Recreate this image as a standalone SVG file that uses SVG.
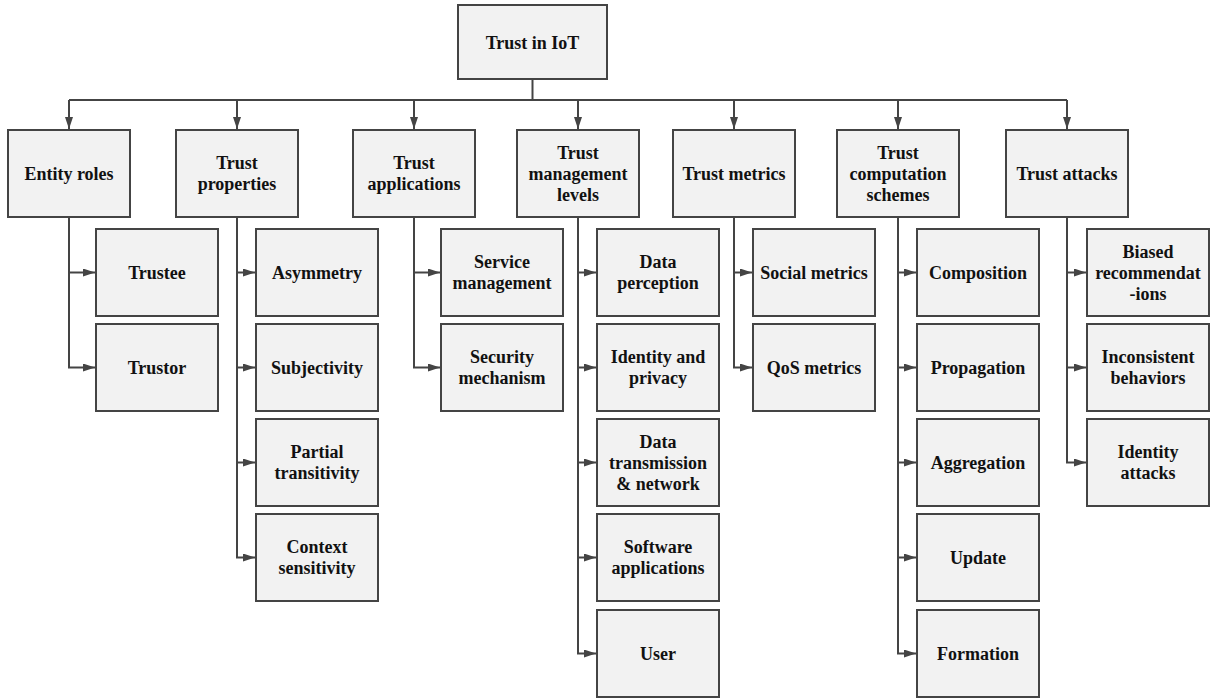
<svg xmlns="http://www.w3.org/2000/svg" width="1210" height="700" viewBox="0 0 1210 700">
  <style>
    .box { fill: #f2f2f2; stroke: #444; stroke-width: 2; }
    .lbl { font-family: "Liberation Serif", "Times New Roman", serif; font-weight: bold; font-size: 18px; fill: #111; text-anchor: middle; }
    .wire { fill: none; stroke: #444; stroke-width: 2; }
  </style>
  <defs>
    <marker id="arr" markerUnits="userSpaceOnUse" markerWidth="12" markerHeight="8" refX="12" refY="4" orient="auto">
      <path d="M0,0 L12,4 L0,8 z" fill="#444"/>
    </marker>
  </defs>
  <rect width="1210" height="700" fill="#fff"/>

  <!-- connectors -->
  <g id="connectors" class="wire">
    <path d="M532.5 79 V100"/>
    <path d="M69 100 H1067"/>
    <path d="M69 100 V129" marker-end="url(#arr)"/>
    <path d="M237 100 V129" marker-end="url(#arr)"/>
    <path d="M414 100 V129" marker-end="url(#arr)"/>
    <path d="M578 100 V129" marker-end="url(#arr)"/>
    <path d="M734 100 V129" marker-end="url(#arr)"/>
    <path d="M898 100 V129" marker-end="url(#arr)"/>
    <path d="M1067 100 V129" marker-end="url(#arr)"/>

    <!-- Entity roles -->
    <path d="M69 217 V367.5 H95" marker-end="url(#arr)"/>
    <path d="M69 272.5 H95" marker-end="url(#arr)"/>
    <!-- Trust properties -->
    <path d="M237 217 V557.5 H255" marker-end="url(#arr)"/>
    <path d="M237 272.5 H255" marker-end="url(#arr)"/>
    <path d="M237 367.5 H255" marker-end="url(#arr)"/>
    <path d="M237 462.5 H255" marker-end="url(#arr)"/>
    <!-- Trust applications -->
    <path d="M414 217 V367.5 H440" marker-end="url(#arr)"/>
    <path d="M414 272.5 H440" marker-end="url(#arr)"/>
    <!-- Trust management levels -->
    <path d="M578 217 V653.5 H596" marker-end="url(#arr)"/>
    <path d="M578 272.5 H596" marker-end="url(#arr)"/>
    <path d="M578 367.5 H596" marker-end="url(#arr)"/>
    <path d="M578 462.5 H596" marker-end="url(#arr)"/>
    <path d="M578 557.5 H596" marker-end="url(#arr)"/>
    <!-- Trust metrics -->
    <path d="M734 217 V367.5 H752" marker-end="url(#arr)"/>
    <path d="M734 272.5 H752" marker-end="url(#arr)"/>
    <!-- Trust computation schemes -->
    <path d="M898 217 V653.5 H916" marker-end="url(#arr)"/>
    <path d="M898 272.5 H916" marker-end="url(#arr)"/>
    <path d="M898 367.5 H916" marker-end="url(#arr)"/>
    <path d="M898 462.5 H916" marker-end="url(#arr)"/>
    <path d="M898 557.5 H916" marker-end="url(#arr)"/>
    <!-- Trust attacks -->
    <path d="M1067 217 V462.5 H1086" marker-end="url(#arr)"/>
    <path d="M1067 272.5 H1086" marker-end="url(#arr)"/>
    <path d="M1067 367.5 H1086" marker-end="url(#arr)"/>
  </g>

  <!-- root -->
  <g id="trust-in-iot">
    <rect class="box" x="458" y="5" width="149" height="74"/>
    <text class="lbl" x="532.5" y="49">Trust in IoT</text>
  </g>

  <!-- first level -->
  <g id="entity-roles">
    <rect class="box" x="8" y="130" width="122" height="87"/>
    <text class="lbl" x="69" y="179.5">Entity roles</text>
  </g>
  <g id="trust-properties">
    <rect class="box" x="176" y="130" width="122" height="87"/>
    <text class="lbl"><tspan x="237" y="169">Trust</tspan><tspan x="237" y="190">properties</tspan></text>
  </g>
  <g id="trust-applications">
    <rect class="box" x="353" y="130" width="122" height="87"/>
    <text class="lbl"><tspan x="414" y="169">Trust</tspan><tspan x="414" y="190">applications</tspan></text>
  </g>
  <g id="trust-management-levels">
    <rect class="box" x="517" y="130" width="122" height="87"/>
    <text class="lbl"><tspan x="578" y="158.5">Trust</tspan><tspan x="578" y="179.5">management</tspan><tspan x="578" y="200.5">levels</tspan></text>
  </g>
  <g id="trust-metrics">
    <rect class="box" x="673" y="130" width="122" height="87"/>
    <text class="lbl" x="734" y="179.5">Trust metrics</text>
  </g>
  <g id="trust-computation-schemes">
    <rect class="box" x="837" y="130" width="122" height="87"/>
    <text class="lbl"><tspan x="898" y="158.5">Trust</tspan><tspan x="898" y="179.5">computation</tspan><tspan x="898" y="200.5">schemes</tspan></text>
  </g>
  <g id="trust-attacks">
    <rect class="box" x="1006" y="130" width="122" height="87"/>
    <text class="lbl" x="1067" y="179.5">Trust attacks</text>
  </g>

  <!-- Entity roles children -->
  <g id="trustee">
    <rect class="box" x="96" y="229" width="122" height="87"/>
    <text class="lbl" x="157" y="278.5">Trustee</text>
  </g>
  <g id="trustor">
    <rect class="box" x="96" y="324" width="122" height="87"/>
    <text class="lbl" x="157" y="373.5">Trustor</text>
  </g>

  <!-- Trust properties children -->
  <g id="asymmetry">
    <rect class="box" x="256" y="229" width="122" height="87"/>
    <text class="lbl" x="317" y="278.5">Asymmetry</text>
  </g>
  <g id="subjectivity">
    <rect class="box" x="256" y="324" width="122" height="87"/>
    <text class="lbl" x="317" y="373.5">Subjectivity</text>
  </g>
  <g id="partial-transitivity">
    <rect class="box" x="256" y="419" width="122" height="87"/>
    <text class="lbl"><tspan x="317" y="458">Partial</tspan><tspan x="317" y="479">transitivity</tspan></text>
  </g>
  <g id="context-sensitivity">
    <rect class="box" x="256" y="514" width="122" height="87"/>
    <text class="lbl"><tspan x="317" y="553">Context</tspan><tspan x="317" y="574">sensitivity</tspan></text>
  </g>

  <!-- Trust applications children -->
  <g id="service-management">
    <rect class="box" x="441" y="229" width="122" height="87"/>
    <text class="lbl"><tspan x="502" y="268">Service</tspan><tspan x="502" y="289">management</tspan></text>
  </g>
  <g id="security-mechanism">
    <rect class="box" x="441" y="324" width="122" height="87"/>
    <text class="lbl"><tspan x="502" y="363">Security</tspan><tspan x="502" y="384">mechanism</tspan></text>
  </g>

  <!-- Trust management levels children -->
  <g id="data-perception">
    <rect class="box" x="597" y="229" width="122" height="87"/>
    <text class="lbl"><tspan x="658" y="268">Data</tspan><tspan x="658" y="289">perception</tspan></text>
  </g>
  <g id="identity-privacy">
    <rect class="box" x="597" y="324" width="122" height="87"/>
    <text class="lbl"><tspan x="658" y="363">Identity and</tspan><tspan x="658" y="384">privacy</tspan></text>
  </g>
  <g id="data-transmission">
    <rect class="box" x="597" y="419" width="122" height="87"/>
    <text class="lbl"><tspan x="658" y="447.5">Data</tspan><tspan x="658" y="468.5">transmission</tspan><tspan x="658" y="489.5">&amp; network</tspan></text>
  </g>
  <g id="software-applications">
    <rect class="box" x="597" y="514" width="122" height="87"/>
    <text class="lbl"><tspan x="658" y="553">Software</tspan><tspan x="658" y="574">applications</tspan></text>
  </g>
  <g id="user">
    <rect class="box" x="597" y="610" width="122" height="87"/>
    <text class="lbl" x="658" y="659.5">User</text>
  </g>

  <!-- Trust metrics children -->
  <g id="social-metrics">
    <rect class="box" x="753" y="229" width="122" height="87"/>
    <text class="lbl" x="814" y="278.5">Social metrics</text>
  </g>
  <g id="qos-metrics">
    <rect class="box" x="753" y="324" width="122" height="87"/>
    <text class="lbl" x="814" y="373.5">QoS metrics</text>
  </g>

  <!-- Trust computation schemes children -->
  <g id="composition">
    <rect class="box" x="917" y="229" width="122" height="87"/>
    <text class="lbl" x="978" y="278.5">Composition</text>
  </g>
  <g id="propagation">
    <rect class="box" x="917" y="324" width="122" height="87"/>
    <text class="lbl" x="978" y="373.5">Propagation</text>
  </g>
  <g id="aggregation">
    <rect class="box" x="917" y="419" width="122" height="87"/>
    <text class="lbl" x="978" y="468.5">Aggregation</text>
  </g>
  <g id="update">
    <rect class="box" x="917" y="514" width="122" height="87"/>
    <text class="lbl" x="978" y="563.5">Update</text>
  </g>
  <g id="formation">
    <rect class="box" x="917" y="610" width="122" height="87"/>
    <text class="lbl" x="978" y="659.5">Formation</text>
  </g>

  <!-- Trust attacks children -->
  <g id="biased-recommendations">
    <rect class="box" x="1087" y="229" width="122" height="87"/>
    <text class="lbl"><tspan x="1148" y="257.5">Biased</tspan><tspan x="1148" y="278.5">recommendat</tspan><tspan x="1148" y="299.5">-ions</tspan></text>
  </g>
  <g id="inconsistent-behaviors">
    <rect class="box" x="1087" y="324" width="122" height="87"/>
    <text class="lbl"><tspan x="1148" y="363">Inconsistent</tspan><tspan x="1148" y="384">behaviors</tspan></text>
  </g>
  <g id="identity-attacks">
    <rect class="box" x="1087" y="419" width="122" height="87"/>
    <text class="lbl"><tspan x="1148" y="458">Identity</tspan><tspan x="1148" y="479">attacks</tspan></text>
  </g>
</svg>
